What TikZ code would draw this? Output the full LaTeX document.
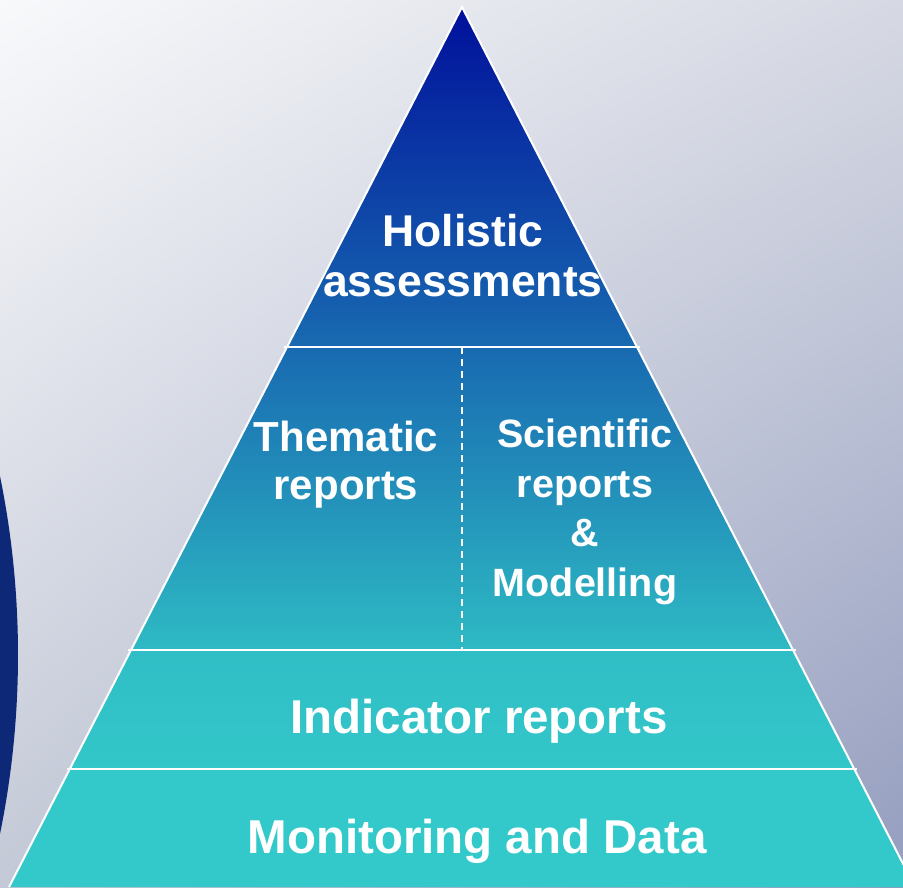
\documentclass[tikz,border=0pt]{standalone}
\usepackage{fontspec}
\setmainfont{Liberation Sans}
\usetikzlibrary{shadings}
\definecolor{bgUL}{HTML}{F8F9FB}
\definecolor{bgUR}{HTML}{D6D9E3}
\definecolor{bgLL}{HTML}{C4C9D7}
\definecolor{bgLR}{HTML}{949DBF}
\definecolor{arcnavy}{HTML}{0D2877}
\definecolor{pyrTop}{HTML}{00109B}
\definecolor{pyrMid}{HTML}{1E70A8}
\definecolor{pyrBot}{HTML}{2EBAC4}
\definecolor{indTop}{HTML}{2FBEC5}
\definecolor{indBot}{HTML}{33C7C9}
\definecolor{monFill}{HTML}{33C9CA}
\tikzset{
  lbl/.style={text=white, inner sep=0pt, align=center, font=\bfseries},
  sep/.style={draw=white, line width=1.6pt},
  edge/.style={draw=white, line width=2pt}
}
\begin{document}
\begin{tikzpicture}[x=1pt, y=-1pt]
\useasboundingbox (0,0) rectangle (903,887);
\clip (0,0) rectangle (903,887);
% background
\shade[upper left=bgUL, upper right=bgUR, lower left=bgLL, lower right=bgLR] (0,0) rectangle (903,887);
% dark arc at left edge
\fill[arcnavy] (-871,655) circle[radius=889pt];
% pyramid corners
\coordinate (apex) at (462,7);
\coordinate (bl) at (9,887);
\coordinate (br) at (915,887);
\coordinate (l1) at (284,347);  \coordinate (r1) at (640,347);
\coordinate (l2) at (128,650);  \coordinate (r2) at (796,650);
\coordinate (l3) at (67,769);   \coordinate (r3) at (857,769);
\coordinate (dtop) at (462,347); \coordinate (dbot) at (462,650);
\begin{scope}
  \clip (apex) -- (bl) -- (br) -- cycle;
  \shade[top color=pyrTop, middle color=pyrMid, bottom color=pyrBot] (0,7) rectangle (903,650);
  \shade[top color=indTop, bottom color=indBot] (0,650) rectangle (903,769);
  \fill[monFill] (0,769) rectangle (903,890);
\end{scope}
% separators
\draw[sep] (l1) -- (r1);
\draw[sep] (l2) -- (r2);
\draw[sep] (l3) -- (r3);
\draw[draw=white, line width=1.4pt, dash pattern=on 7pt off 5pt] (dtop) -- (dbot);
\draw[edge, line join=miter] (bl) -- (apex) -- (br);
% labels
\node[lbl, anchor=north, font=\bfseries\fontsize{44.5}{50}\selectfont] (holistic) at (463,214) {Holistic\\assessments};
\node[lbl, anchor=north, font=\bfseries\fontsize{42}{48}\selectfont] (thematic) at (346,421) {Thematic\\reports};
\node[lbl, anchor=north, font=\bfseries\fontsize{39.5}{49.5}\selectfont] (scientific) at (585,419) {Scientific\\reports\\\&\\Modelling};
\node[lbl, anchor=base, font=\bfseries\fontsize{47.5}{54}\selectfont] (indicator) at (479,733) {Indicator reports};
\node[lbl, anchor=base, font=\bfseries\fontsize{47.5}{54}\selectfont] (monitoring) at (477,853) {Monitoring and Data};
\end{tikzpicture}
\end{document}
